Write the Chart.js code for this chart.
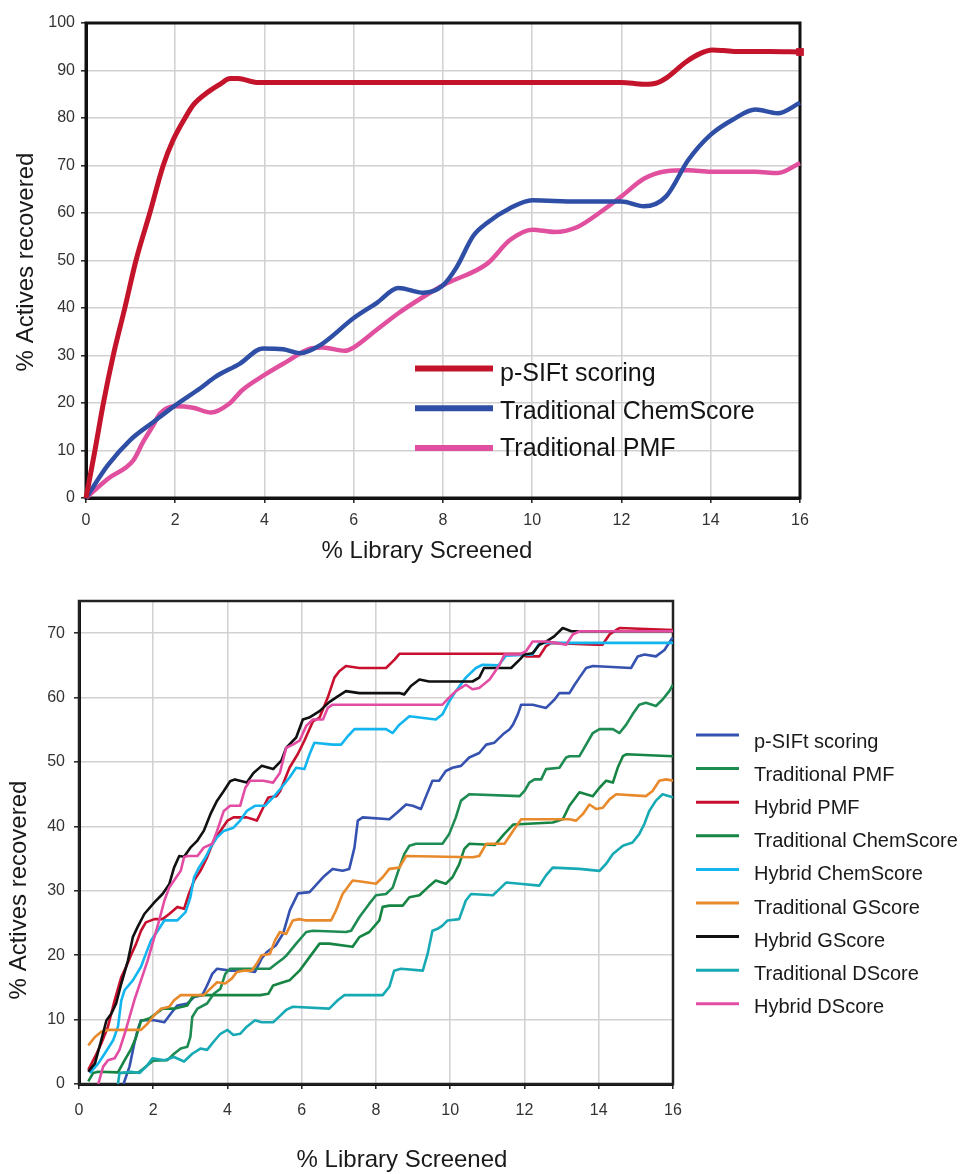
<!DOCTYPE html>
<html>
<head>
<meta charset="utf-8">
<script src="https://cdn.jsdelivr.net/npm/chart.js@4.4.0/dist/chart.umd.min.js"></script>
<style>
  html, body { margin: 0; padding: 0; background: #fff; }
  #page { position: relative; width: 967px; height: 1174px; overflow: hidden; }
  canvas { position: absolute; left: 0; }
  #topChart { top: 0; }
  #bottomChart { top: 580px; }
</style>
</head>
<body>
<div id="page">
  <canvas id="topChart" width="967" height="580"></canvas>
  <canvas id="bottomChart" width="967" height="594"></canvas>
</div>
<script>
// ---------- Upper panel: [% library screened, % actives recovered] ----------
const topPsift = [[0,0],[0.2,10],[0.39,20],[0.61,30],[0.87,40],[1.12,50],[1.43,60],[1.73,70],[1.95,75.3],[2.22,80],[2.41,82.8],[2.71,85.3],[3.0,87.1],[3.23,88.3],[3.41,88.3],[3.82,87.5],[4.2,87.5],[6,87.5],[8,87.5],[10,87.5],[12,87.5],[12.5,87.1],[12.8,87.4],[13,88.4],[13.46,91.9],[13.77,93.6],[14.03,94.3],[14.29,94.2],[14.6,94],[15.3,94],[16,93.9]];
const topChemScore = [[0,0],[0.49,6.9],[0.99,12.2],[1.51,16],[2,19.5],[2.56,23.1],[2.9,25.5],[3.45,28.3],[3.96,31.5],[4.42,31.3],[4.8,30.5],[5.25,32.2],[6,37.9],[6.52,41.1],[7,44.2],[7.56,43.2],[8,44.8],[8.3,48.5],[8.68,55.2],[9,58],[9.5,61],[10,62.7],[11,62.4],[12,62.4],[12.5,61.4],[13,63.5],[13.5,71.2],[14,76.5],[14.5,79.7],[15,81.8],[15.5,81],[16,83.2]];
const topPmf = [[0,0],[0.5,4.1],[1.06,7.9],[1.28,11.8],[1.5,15.2],[1.66,17.8],[2,19.3],[2.4,19],[2.8,18],[3.2,19.8],[3.5,22.7],[4,25.9],[4.5,28.7],[5,31.4],[5.3,31.7],[5.8,31],[6,31.7],[6.5,35.3],[7,38.9],[7.5,42],[8,44.8],[9,49.4],[9.5,54.3],[10,56.5],[10.5,56],[11,57],[11.5,60],[12,63.5],[12.5,67.2],[13,68.8],[13.5,69],[14,68.7],[15,68.7],[15.5,68.4],[16,70.5]];
const topLabels = ['p-SIFt scoring', 'Traditional ChemScore', 'Traditional PMF'];

// ---------- Lower panel: [% library screened, % actives recovered] ----------
const lowPsift = [[1.2,0],[1.36,2.7],[1.49,6.3],[1.58,8.4],[1.67,9.9],[2.03,9.9],[2.3,9.6],[2.47,10.9],[2.65,12.2],[2.92,12.5],[3.1,13.5],[3.32,13.8],[3.45,15.3],[3.59,17.1],[3.72,17.9],[4.07,17.6],[4.52,17.6],[4.74,17.4],[4.92,19.5],[5.06,20.5],[5.3,21.5],[5.5,23.4],[5.68,27],[5.9,29.6],[6.21,29.8],[6.4,31],[6.61,32.3],[6.83,33.4],[7.1,33.1],[7.28,33.4],[7.42,36.7],[7.51,40.9],[7.64,41.4],[8.36,41.1],[8.58,42.2],[8.81,43.4],[8.99,43.2],[9.21,42.7],[9.35,44.7],[9.52,47.1],[9.7,47.1],[9.88,48.6],[10.06,49.1],[10.29,49.4],[10.51,50.7],[10.78,51.4],[10.97,52.7],[11.19,53],[11.42,54.3],[11.6,55.1],[11.69,55.8],[11.82,57.4],[11.91,58.9],[12.22,58.9],[12.58,58.4],[12.81,59.7],[12.94,60.7],[13.21,60.7],[13.35,62],[13.48,63.1],[13.66,64.6],[13.84,64.9],[14.87,64.6],[15.05,66.4],[15.23,66.7],[15.54,66.4],[15.77,67.4],[15.95,69],[16,69.3]];
const lowTradPmf = [[1.1,1.7],[1.6,1.8],[2.0,3.6],[2.38,3.7],[2.56,4.7],[2.74,5.5],[2.92,5.8],[3.0,7.3],[3.05,10.4],[3.19,11.7],[3.45,12.5],[3.63,14],[3.81,14.8],[3.94,17.1],[4.07,17.9],[5.14,17.9],[5.32,18.7],[5.5,19.5],[5.58,19.9],[5.85,21.8],[6.12,23.6],[6.3,23.8],[7.19,23.6],[7.33,23.8],[7.55,25.9],[7.82,28],[8.0,29.3],[8.27,29.5],[8.45,30.5],[8.63,33.6],[8.76,35.7],[8.9,37],[9.08,37.3],[9.79,37.3],[9.97,38.8],[10.15,41.4],[10.29,44],[10.51,45],[11.87,44.7],[12.0,45.5],[12.13,46.8],[12.27,47.3],[12.45,47.3],[12.58,48.9],[12.94,49.1],[13.12,50.7],[13.21,50.9],[13.48,50.9],[13.66,52.7],[13.84,54.5],[14.02,55.1],[14.38,55.1],[14.56,54.5],[14.74,55.8],[14.91,57.4],[15.09,58.9],[15.27,59.2],[15.54,58.7],[15.72,59.7],[15.9,61],[16,62]];
const lowHybridPmf = [[0.25,2.2],[0.43,4.2],[0.6,6.3],[0.78,8.9],[0.96,13],[1.14,16.6],[1.27,18.2],[1.4,20],[1.54,21.8],[1.67,23.8],[1.8,25.1],[2.03,25.6],[2.25,25.6],[2.43,26.4],[2.65,27.5],[2.83,27.2],[2.96,29.5],[3.1,31.6],[3.27,33.1],[3.45,35.2],[3.63,37.8],[3.81,39.3],[4.0,40.9],[4.16,41.4],[4.52,41.4],[4.79,40.9],[4.96,42.9],[5.1,44.5],[5.32,44.7],[5.42,45.5],[5.67,49.1],[5.89,51.2],[6.07,53.3],[6.3,56.3],[6.48,56.9],[6.7,60],[6.88,63.1],[7.01,64.1],[7.19,64.9],[7.55,64.6],[8.27,64.6],[8.5,65.9],[8.63,66.8],[11.87,66.8],[12.04,66.4],[12.4,66.4],[12.58,68],[12.72,68.5],[13.93,68.2],[14.1,68.2],[14.29,69.8],[14.47,70.5],[14.56,70.8],[16,70.5]];
const lowTradChemScore = [[0.25,0.4],[0.38,1.7],[0.52,1.9],[1.05,1.8],[1.23,3.7],[1.41,5.5],[1.54,7.3],[1.67,9.8],[1.9,10.2],[2.07,10.9],[2.25,11.7],[2.56,11.7],[2.92,12.2],[3.05,13.5],[3.27,13.8],[4.88,13.8],[5.1,14],[5.23,15.3],[5.5,15.8],[5.67,16.1],[5.94,17.6],[6.21,19.7],[6.48,21.8],[6.74,21.8],[7.37,21.3],[7.55,22.8],[7.82,23.6],[8.09,25.4],[8.18,27.5],[8.36,27.7],[8.72,27.7],[8.9,29],[9.17,29.3],[9.39,30.5],[9.61,31.6],[9.88,31.1],[10.06,32.1],[10.24,34.1],[10.38,36.5],[10.51,37.3],[11.2,37.1],[11.45,38.8],[11.7,40.3],[12.76,40.6],[13.03,41.1],[13.21,43.2],[13.48,45.3],[13.66,45],[13.84,44.7],[14.02,46],[14.2,47.1],[14.38,46.8],[14.51,49.1],[14.65,50.9],[14.74,51.2],[16,50.9]];
const lowHybridChemScore = [[0.29,1.7],[0.52,3.2],[0.69,4.7],[0.92,6.8],[1.05,8.9],[1.14,13],[1.23,14.6],[1.45,16.1],[1.67,18.2],[1.8,20.2],[1.94,22.3],[2.12,23.8],[2.3,25.4],[2.65,25.4],[2.87,26.7],[3.0,29],[3.1,32.1],[3.23,33.6],[3.41,35.2],[3.54,36.7],[3.72,38.3],[3.9,39.3],[4.16,39.8],[4.34,40.9],[4.52,42.4],[4.74,43.2],[5.01,43.2],[5.23,44.5],[5.45,46],[5.67,47.6],[5.85,49.1],[6.07,48.9],[6.21,51.2],[6.34,53],[6.83,52.7],[7.06,52.7],[7.24,54],[7.42,55.1],[8.27,55.1],[8.45,54.5],[8.63,55.8],[8.9,57.1],[9.61,56.6],[9.79,57.4],[9.97,59.4],[10.15,61],[10.42,63.1],[10.69,64.6],[10.87,65.1],[11.3,65],[11.5,66.5],[12.22,66.7],[12.4,68.5],[16,68.5]];
const lowTradGScore = [[0.25,6],[0.43,7.3],[0.6,8.1],[0.78,8.4],[1.67,8.4],[1.85,9.4],[2.03,10.7],[2.21,11.7],[2.43,12],[2.56,13],[2.74,13.8],[3.36,13.8],[3.54,14.8],[3.72,15.8],[3.94,15.6],[4.12,16.4],[4.25,17.4],[4.43,17.6],[4.65,17.6],[4.79,18.7],[4.92,20],[5.14,20.2],[5.28,22.3],[5.41,23.6],[5.58,23.3],[5.76,25.4],[5.94,25.6],[6.12,25.4],[6.79,25.4],[6.92,26.9],[7.1,29.5],[7.37,31.6],[7.64,31.4],[8.0,31.1],[8.18,32.1],[8.36,33.4],[8.63,33.6],[8.81,35.4],[10.6,35.2],[10.78,35.4],[10.97,37.3],[11.46,37.3],[11.69,39.3],[11.91,41.1],[13.21,41.1],[13.39,40.9],[13.57,41.9],[13.75,43.4],[13.93,42.7],[14.11,42.9],[14.29,44.2],[14.47,45],[15.27,44.7],[15.45,45.5],[15.63,47.1],[15.81,47.3],[16,47.1]];
const lowHybridGScore = [[0.25,1.9],[0.43,3.2],[0.6,6.8],[0.74,9.9],[0.87,10.9],[1.0,12.5],[1.14,15.6],[1.32,19.2],[1.45,22.8],[1.58,24.4],[1.76,26.4],[2.03,28.2],[2.25,29.5],[2.43,31],[2.56,33.6],[2.7,35.4],[2.83,35.3],[3.0,36.7],[3.19,37.8],[3.36,39.3],[3.54,41.9],[3.72,44],[3.9,45.5],[4.07,47],[4.2,47.3],[4.52,46.8],[4.7,48.3],[4.92,49.4],[5.23,48.9],[5.45,50.2],[5.58,52.2],[5.85,53.8],[6.03,56.6],[6.2,56.9],[6.48,57.9],[6.74,59.3],[6.97,60.2],[7.19,61],[7.55,60.7],[8.63,60.7],[8.76,60.5],[8.94,61.8],[9.17,62.8],[9.43,62.5],[10.6,62.5],[10.78,63.1],[10.91,64.6],[11.64,64.6],[11.87,65.9],[12.0,66.7],[12.22,66.9],[12.4,68.2],[12.58,68.7],[12.8,69.5],[13.03,70.8],[13.26,70.3],[16,70.3]];
const lowTradDScore = [[1.05,0],[1.09,1.7],[1.41,1.9],[1.63,1.7],[1.81,2.7],[1.98,4],[2.3,3.7],[2.56,4.2],[2.83,3.5],[3.05,4.7],[3.27,5.5],[3.45,5.3],[3.63,6.6],[3.81,7.8],[4.0,8.4],[4.16,7.6],[4.34,7.8],[4.52,8.9],[4.74,9.9],[4.92,9.6],[5.23,9.6],[5.4,10.5],[5.58,11.5],[5.76,12],[6.74,11.7],[6.97,13],[7.15,13.8],[8.18,13.8],[8.36,15.1],[8.49,17.6],[8.67,17.9],[9.26,17.6],[9.39,20.2],[9.52,23.8],[9.66,24.1],[9.79,24.6],[9.93,25.4],[10.24,25.6],[10.42,28.5],[10.56,29.5],[11.15,29.3],[11.33,30.3],[11.51,31.3],[11.87,31.1],[12.4,30.8],[12.58,32.4],[12.76,33.6],[13.48,33.4],[14.02,33.1],[14.2,34.2],[14.38,35.7],[14.65,37],[14.91,37.5],[15.09,38.8],[15.23,40.4],[15.36,42.4],[15.54,44],[15.72,45],[15.9,44.7],[16,44.5]];
const lowHybridDScore = [[0.52,0],[0.65,2.7],[0.78,3.7],[0.96,4],[1.09,5.3],[1.23,7.8],[1.36,10.4],[1.49,13],[1.67,16.1],[1.85,19.2],[2.03,22.8],[2.16,25.4],[2.3,28.5],[2.43,30.5],[2.56,31.6],[2.74,33.1],[2.83,35.2],[2.92,35.4],[3.19,35.4],[3.36,36.7],[3.59,37.3],[3.72,39.3],[3.9,42.4],[4.07,43.2],[4.34,43.2],[4.48,46],[4.61,47.1],[4.96,47.1],[5.23,46.8],[5.41,48.3],[5.58,52.2],[5.76,52.7],[5.94,53.3],[6.12,55.6],[6.3,56.6],[6.57,56.6],[6.7,58.4],[6.83,58.9],[9.79,58.9],[9.97,60],[10.15,61],[10.42,62],[10.6,61.3],[10.78,61.5],[11.06,62.8],[11.33,65.1],[11.46,66.7],[11.87,66.7],[12.04,67.2],[12.22,68.7],[12.58,68.7],[12.85,68.5],[13.12,68.2],[13.3,69.8],[13.48,70.3],[16,70.3]];
const lowLabels = ['p-SIFt scoring', 'Traditional PMF', 'Hybrid PMF', 'Traditional ChemScore', 'Hybrid ChemScore', 'Traditional GScore', 'Hybrid GScore', 'Traditional DScore', 'Hybrid DScore'];

// Shared tick values for both panels
const xTickStep = 2;
const topYStep = 10;
const lowYStep = 10;

const FONT = "'Liberation Sans', Arial, Helvetica, sans-serif";

const toPoints = pairs => pairs.map(([x, y]) => ({ x, y }));

// Plot frame around the chart area (top/right edges are not axes)
const framePlugin = {
  id: 'frame',
  beforeDatasetsDraw(chart, args, o) {
    const { ctx, chartArea: a } = chart;
    ctx.save();
    ctx.strokeStyle = o.color;
    ctx.lineWidth = o.width;
    ctx.strokeRect(a.left, a.top, a.right - a.left, a.bottom - a.top);
    ctx.restore();
  }
};

// Axis captions placed at fixed spots
const captionPlugin = {
  id: 'captions',
  afterDraw(chart, args, o) {
    const ctx = chart.ctx;
    ctx.save();
    ctx.fillStyle = o.color;
    ctx.font = o.size + 'px ' + FONT;
    ctx.textAlign = 'center';
    ctx.textBaseline = 'alphabetic';
    ctx.fillText(o.xText, o.xCenter, o.xBaseline);
    ctx.translate(o.yBaseline, o.yCenter);
    ctx.rotate(-Math.PI / 2);
    ctx.fillText(o.yText, 0, 0);
    ctx.restore();
  }
};

// Series key drawn from the datasets' own labels and colours
const keyPlugin = {
  id: 'seriesKey',
  afterDraw(chart, args, o) {
    const ctx = chart.ctx;
    ctx.save();
    ctx.font = o.size + 'px ' + FONT;
    ctx.textAlign = 'left';
    ctx.textBaseline = 'alphabetic';
    chart.data.datasets.forEach((ds, i) => {
      const ly = o.lineY + i * o.lineStep;
      ctx.strokeStyle = ds.borderColor;
      ctx.lineWidth = o.lineWidth;
      ctx.lineCap = 'butt';
      ctx.beginPath();
      ctx.moveTo(o.x0, ly);
      ctx.lineTo(o.x1, ly);
      ctx.stroke();
      ctx.fillStyle = o.color;
      ctx.fillText(ds.label, o.textX, o.textY + i * o.textStep);
    });
    ctx.restore();
  }
};

function axisX(height, pad) {
  return {
    type: 'linear', min: 0, max: 16,
    ticks: { stepSize: xTickStep, color: '#333', padding: pad, font: { family: FONT, size: 16 } },
    grid: { color: '#d3d3d5', lineWidth: 1.6, drawTicks: true, tickLength: 5, tickColor: '#222', tickWidth: 1.5 },
    border: { color: '#111', width: 3 },
    afterFit: s => { s.height = height; }
  };
}
function axisY(width, max, step, pad) {
  return {
    min: 0, max: max,
    ticks: { stepSize: step, includeBounds: false, color: '#333', padding: pad, font: { family: FONT, size: 16 } },
    grid: { color: '#d3d0d0', lineWidth: 1.6, drawTicks: true, tickLength: 5, tickColor: '#222', tickWidth: 1.5 },
    border: { color: '#111', width: 3 },
    afterFit: s => { s.width = width; }
  };
}

// ---------- Upper chart ----------
const topColors = ['#c4142c', '#2f4fa6', '#e0509f'];
const topSeries = [topPsift, topChemScore, topPmf];
new Chart(document.getElementById('topChart'), {
  type: 'line',
  data: {
    datasets: topSeries.map((s, i) => ({
      label: topLabels[i],
      data: toPoints(s),
      borderColor: topColors[i],
      backgroundColor: topColors[i],
      borderWidth: i === 0 ? 5 : 4.5,
      cubicInterpolationMode: 'monotone',
      pointStyle: 'rect',
      pointBorderWidth: 0,
      pointRadius: ctx => (i === 0 && ctx.dataIndex === s.length - 1) ? 5.5 : 0,
      clip: 8,
      fill: false
    }))
  },
  options: {
    responsive: false, animation: false, events: [],
    layout: { padding: { left: 0, right: 167, top: 23, bottom: 0 } },
    scales: { x: axisX(82, 8), y: axisY(86, 100, topYStep, 6) },
    plugins: {
      legend: { display: false }, tooltip: { enabled: false },
      frame: { color: '#111', width: 3 },
      captions: { color: '#1a1a1a', size: 24, xText: '% Library Screened', xCenter: 427, xBaseline: 558,
                  yText: '% Actives recovered', yCenter: 262, yBaseline: 33 },
      seriesKey: { color: '#141414', size: 25, x0: 415, x1: 493, lineWidth: 6, textX: 500,
                   lineY: 368.5, lineStep: 39.7, textY: 381, textStep: 37.7 }
    }
  },
  plugins: [framePlugin, captionPlugin, keyPlugin]
});

// ---------- Lower chart ----------
const lowColors = ['#3552b0', '#1e8c52', '#c8102e', '#168443', '#12b5ee', '#e8892c', '#111111', '#17aab4', '#e24da3'];
const lowSeries = [lowPsift, lowTradPmf, lowHybridPmf, lowTradChemScore, lowHybridChemScore, lowTradGScore, lowHybridGScore, lowTradDScore, lowHybridDScore];
new Chart(document.getElementById('bottomChart'), {
  type: 'line',
  data: {
    datasets: lowSeries.map((s, i) => ({
      label: lowLabels[i],
      data: toPoints(s),
      borderColor: lowColors[i],
      backgroundColor: lowColors[i],
      borderWidth: 2.6,
      borderJoinStyle: 'round',
      tension: 0,
      pointRadius: 0,
      order: lowSeries.length - i,
      fill: false
    }))
  },
  options: {
    responsive: false, animation: false, events: [],
    layout: { padding: { left: 0, right: 294, top: 21, bottom: 0 } },
    scales: { x: axisX(90, 12), y: axisY(79, 75, lowYStep, 9) },
    plugins: {
      legend: { display: false }, tooltip: { enabled: false },
      frame: { color: '#222', width: 2.5 },
      captions: { color: '#1a1a1a', size: 24, xText: '% Library Screened', xCenter: 402, xBaseline: 587,
                  yText: '% Actives recovered', yCenter: 310, yBaseline: 26 },
      seriesKey: { color: '#1a1a1a', size: 20, x0: 696, x1: 739, lineWidth: 3, textX: 754,
                   lineY: 155, lineStep: 33.6, textY: 167.5, textStep: 33.2 }
    }
  },
  plugins: [framePlugin, captionPlugin, keyPlugin]
});
</script>
</body>
</html>
